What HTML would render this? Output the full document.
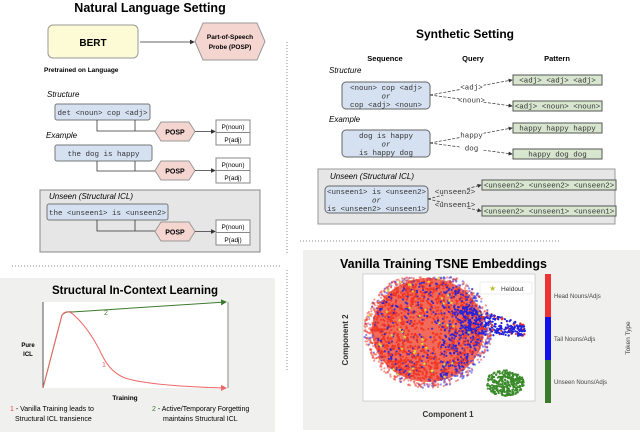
<!DOCTYPE html>
<html><head><meta charset="utf-8"><style>
body{margin:0;background:#fff}
svg{display:block}
text{font-family:"Liberation Sans",sans-serif}
.m{font-family:"Liberation Mono",monospace;font-size:7.5px;fill:#333}
.it{font-style:italic;font-size:8px}
.b{font-weight:bold}
</style></head><body>
<svg id="s" width="640" height="432" viewBox="0 0 640 432" xmlns="http://www.w3.org/2000/svg">
<defs>
<marker id="a" markerWidth="6" markerHeight="6" refX="5" refY="3" orient="auto"><path d="M0,0L6,3L0,6z" fill="#333"/></marker>
<marker id="ag" markerWidth="6" markerHeight="6" refX="5" refY="3" orient="auto"><path d="M0,0L6,3L0,6z" fill="#3a7a2a"/></marker>
<marker id="ar" markerWidth="6" markerHeight="6" refX="5" refY="3" orient="auto"><path d="M0,0L6,3L0,6z" fill="#e66"/></marker>
</defs>
<text x="150" y="12" text-anchor="middle" class="b" font-size="12.5">Natural Language Setting</text>
<rect x="48" y="25" width="90" height="33" rx="5" fill="#fdfbd5" stroke="#999"/>
<text x="93" y="46" text-anchor="middle" class="b" font-size="10">BERT</text>
<line x1="140" y1="42" x2="194" y2="42" stroke="#333" stroke-width=".8" marker-end="url(#a)"/>
<polygon points="203,23 257,23 265,41.5 257,60 203,60 195,41.5" fill="#f5d5d0" stroke="#999"/>
<text x="230" y="39" text-anchor="middle" class="b" font-size="6.5">Part-of-Speech</text>
<text x="230" y="49" text-anchor="middle" class="b" font-size="6.5">Probe (POSP)</text>
<text x="44" y="72" class="b" font-size="6.5">Pretrained on Language</text>
<rect x="40" y="190" width="220" height="62" fill="#e6e6e6" stroke="#888"/>
<g id="rows"></g>
<line x1="287" y1="42" x2="287" y2="255" stroke="#888" stroke-dasharray="1,2"/>
<line x1="12" y1="266" x2="282" y2="266" stroke="#888" stroke-dasharray="1,2"/>
<line x1="300" y1="241" x2="560" y2="241" stroke="#888" stroke-dasharray="1,2"/>
<line x1="287" y1="270" x2="287" y2="372" stroke="#888" stroke-dasharray="1,2"/>
<text x="465" y="38" text-anchor="middle" class="b" font-size="12">Synthetic Setting</text>
<text x="385" y="61" text-anchor="middle" class="b" font-size="7.5">Sequence</text>
<text x="473" y="61" text-anchor="middle" class="b" font-size="7.5">Query</text>
<text x="557" y="61" text-anchor="middle" class="b" font-size="7.5">Pattern</text>
<rect x="318" y="169" width="297" height="55" fill="#e6e6e6" stroke="#999"/>
<g id="syn"></g>
<rect x="0" y="278" width="275" height="154" fill="#f0f1ef"/>
<text x="135" y="294" text-anchor="middle" class="b" font-size="11.5">Structural In-Context Learning</text>
<rect x="43" y="302" width="185" height="86" fill="#fff"/>
<line x1="43" y1="302" x2="43" y2="388" stroke="#555"/>
<line x1="228" y1="302" x2="228" y2="388" stroke="#888"/>
<path d="M43,388 L62,315 Q66,311 72,312 L226,302" fill="none" stroke="#3a7a2a" stroke-width="1" marker-end="url(#ag)"/>
<path d="M43,388 L62,315 Q67,308 75,316 Q90,330 102,355 Q110,372 125,378 Q150,386 226,388" fill="none" stroke="#e66" stroke-width="1" marker-end="url(#ar)"/>
<text x="104" y="315" fill="#3a7a2a" font-size="7">2</text>
<text x="102" y="367" fill="#e66" font-size="7">1</text>
<text x="28" y="347" text-anchor="middle" class="b" font-size="6">Pure</text>
<text x="28" y="356" text-anchor="middle" class="b" font-size="6">ICL</text>
<text x="125" y="400" text-anchor="middle" class="b" font-size="6.5">Training</text>
<text x="10" y="411" font-size="7"><tspan fill="#e44">1</tspan> - Vanilla Training leads to</text>
<text x="15" y="421" font-size="7">Structural ICL transience</text>
<text x="152" y="411" font-size="7"><tspan fill="#3a7a2a">2</tspan> - Active/Temporary Forgetting</text>
<text x="163" y="421" font-size="7">maintains Structural ICL</text>
<rect x="303" y="250" width="337" height="180" fill="#f0f1ef"/>
<text x="340" y="268" class="b" font-size="12.5">Vanilla Training TSNE Embeddings</text>
<rect x="363" y="274" width="172" height="127" fill="#fff" stroke="#aaa" stroke-width=".5"/>
<g id="sc"></g>
<rect x="480" y="282" width="52" height="12" fill="#fff" stroke="#ddd" stroke-width=".5"/>
<text x="489" y="291" font-size="8" fill="#bb3">★</text>
<text x="501" y="291" font-size="6.5" fill="#333">Heldout</text>
<rect x="545" y="274" width="6" height="43" fill="#e33"/>
<rect x="545" y="317" width="6" height="43" fill="#11e"/>
<rect x="545" y="360" width="6" height="43" fill="#3a7a2a"/>
<text x="554" y="298" font-size="6" fill="#444">Head Nouns/Adjs</text>
<text x="554" y="341" font-size="6" fill="#444">Tail Nouns/Adjs</text>
<text x="554" y="384" font-size="6" fill="#444">Unseen Nouns/Adjs</text>
<text transform="translate(630,338) rotate(-90)" text-anchor="middle" font-size="6.5" fill="#444">Token Type</text>
<text x="448" y="417" text-anchor="middle" class="b" font-size="8" fill="#333">Component 1</text>
<text transform="translate(348,340) rotate(-90)" text-anchor="middle" class="b" font-size="8" fill="#333">Component 2</text>
</svg>
<script>
var NS="http://www.w3.org/2000/svg",s=document.getElementById('s');
function el(g,t,a,txt){var e=document.createElementNS(NS,t);for(var k in a)e.setAttribute(k,a[k]);if(txt)e.textContent=txt;g.appendChild(e);return e;}
var R=document.getElementById('rows');
function hex(g,x,y,w,h,lab){el(g,'polygon',{points:[x+6,y,x+w-6,y,x+w,y+h/2,x+w-6,y+h,x+6,y+h,x,y+h/2].join(' '),fill:'#f5d5d0',stroke:'#999'});el(g,'text',{x:x+w/2,y:y+h/2+3,'text-anchor':'middle','class':'b','font-size':'7'},lab);}
var rows=[["Structure",97,55,104,95,"det <noun> cop <adj>",131,122,120],["Example",138,55,145,97,"the dog is happy",171,161,158],["Unseen (Structural ICL)",199,47,204,121,"the <unseen1> is <unseen2>",231,222,220]];
rows.forEach(function(r){el(R,'text',{x:r[0][0]=='U'?49:r[0][0]=='S'?47:46,y:r[1],'class':'it'},r[0]);
el(R,'rect',{x:r[2],y:r[3],width:r[4],height:16,rx:2,fill:'#d5e0f0',stroke:'#777'});
el(R,'text',{x:r[2]+r[4]/2,y:r[3]+11,'text-anchor':'middle','class':'m'},r[5]);
el(R,'path',{d:'M97,'+(r[3]+16)+'V'+r[6]+'H155M135,'+(r[3]+16)+'V'+r[6],fill:'none',stroke:'#333','stroke-width':'.8'});
hex(R,155,r[7],40,19,'POSP');
el(R,'line',{x1:195,y1:r[7]+9.5,x2:215,y2:r[7]+9.5,stroke:'#333','stroke-width':'.8','marker-end':'url(#a)'});
el(R,'rect',{x:216,y:r[8],width:34,height:25,fill:'#fff',stroke:'#888'});el(R,'line',{x1:216,y1:r[8]+12.5,x2:250,y2:r[8]+12.5,stroke:'#888'});
el(R,'text',{x:233,y:r[8]+9,'text-anchor':'middle','font-size':'6.5'},'P(noun)');el(R,'text',{x:233,y:r[8]+22,'text-anchor':'middle','font-size':'6.5'},'P(adj)');});
var S=document.getElementById('syn');
var sy=[["Structure",329,73,342,82,88,["<noun> cop <adj>","or","cop <adj> <noun>"],[[513,75,89,"<adj> <adj> <adj>"],[513,101,89,"<adj> <noun> <noun>"]],["<adj>","<noun>"]],
["Example",329,122,342,130,88,["dog is happy","or","is happy dog"],[[513,123,89,"happy happy happy"],[513,149,89,"happy dog dog"]],["happy","dog"]],
["Unseen (Structural ICL)",330,179,325,186,103,["<unseen1> is  <unseen2>","or","is <unseen2> <unseen1>"],[[482,180,134,"<unseen2> <unseen2> <unseen2>"],[482,206,134,"<unseen2> <unseen1> <unseen1>"]],["<unseen2>","<unseen1>"]]];
sy.forEach(function(r){el(S,'text',{x:r[1],y:r[2],'class':'it'},r[0]);
el(S,'rect',{x:r[3],y:r[4],width:r[5],height:27,rx:4,fill:'#d5e0f0',stroke:'#666'});
r[6].forEach(function(t,i){el(S,'text',{x:r[3]+r[5]/2,y:r[4]+8+i*8.5,'text-anchor':'middle','class':'m','font-style':i==1?'italic':'normal'},t);});
var sx=r[3]+r[5],syy=r[4]+13;
r[7].forEach(function(p,i){el(S,'line',{x1:sx,y1:syy,x2:p[0]-1,y2:p[1]+5,stroke:'#333','stroke-width':'.7','stroke-dasharray':'3,1.5','marker-end':'url(#a)'});
el(S,'rect',{x:p[0],y:p[1],width:p[2],height:10,fill:'#d8e6d0',stroke:'#555'});
el(S,'text',{x:p[0]+p[2]/2,y:p[1]+7.5,'text-anchor':'middle','class':'m','font-size':'7'},p[3]);
var lx=(sx+p[0])/2,ly=(syy+p[1]+5)/2;el(S,'rect',{x:lx-12,y:ly-5,width:24,height:8,fill:r[0][0]=='U'?'#e6e6e6':'#fff'});
el(S,'text',{x:lx,y:ly+2,'text-anchor':'middle','class':'m','font-size':'7'},r[8][i]);});});
var G=document.getElementById('sc'),seed=7;function rnd(){seed=(seed*16807)%2147483647;return seed/2147483647;}
el(G,'ellipse',{cx:428,cy:330,rx:56,ry:52,fill:'#f26a5a'});
for(var i=0;i<2200;i++){var a=rnd()*6.283,d=Math.pow(rnd(),0.4);var x=428+Math.cos(a)*d*64,y=330+Math.sin(a)*d*58;if(y>399||y<277)continue;
var c=rnd()<0.2?'#2222dd':'#ee3322';if(x>440&&rnd()<0.45)c='#2222dd';el(G,'circle',{cx:x,cy:y,r:1.1,fill:c,opacity:d>0.85?0.5:0.85});}
for(var i=0;i<350;i++){var t=rnd(),x=460+t*65,y=320+t*10+(rnd()-0.5)*(30-t*18);el(G,'circle',{cx:x,cy:y,r:1.1,fill:rnd()<0.2?'#ee3322':'#2222dd'});}
for(var i=0;i<320;i++){var a=rnd()*6.283,d=Math.sqrt(rnd());el(G,'circle',{cx:505+Math.cos(a)*d*19,cy:383+Math.sin(a)*d*13,r:1.1,fill:'#3a8a2a'});}
for(var i=0;i<45;i++){var a=rnd()*6.283,d=Math.sqrt(rnd());el(G,'text',{x:425+Math.cos(a)*d*60,y:330+Math.sin(a)*d*52,'font-size':'5',fill:'#dd4','text-anchor':'middle'},'★');}
</script>
</body></html>
